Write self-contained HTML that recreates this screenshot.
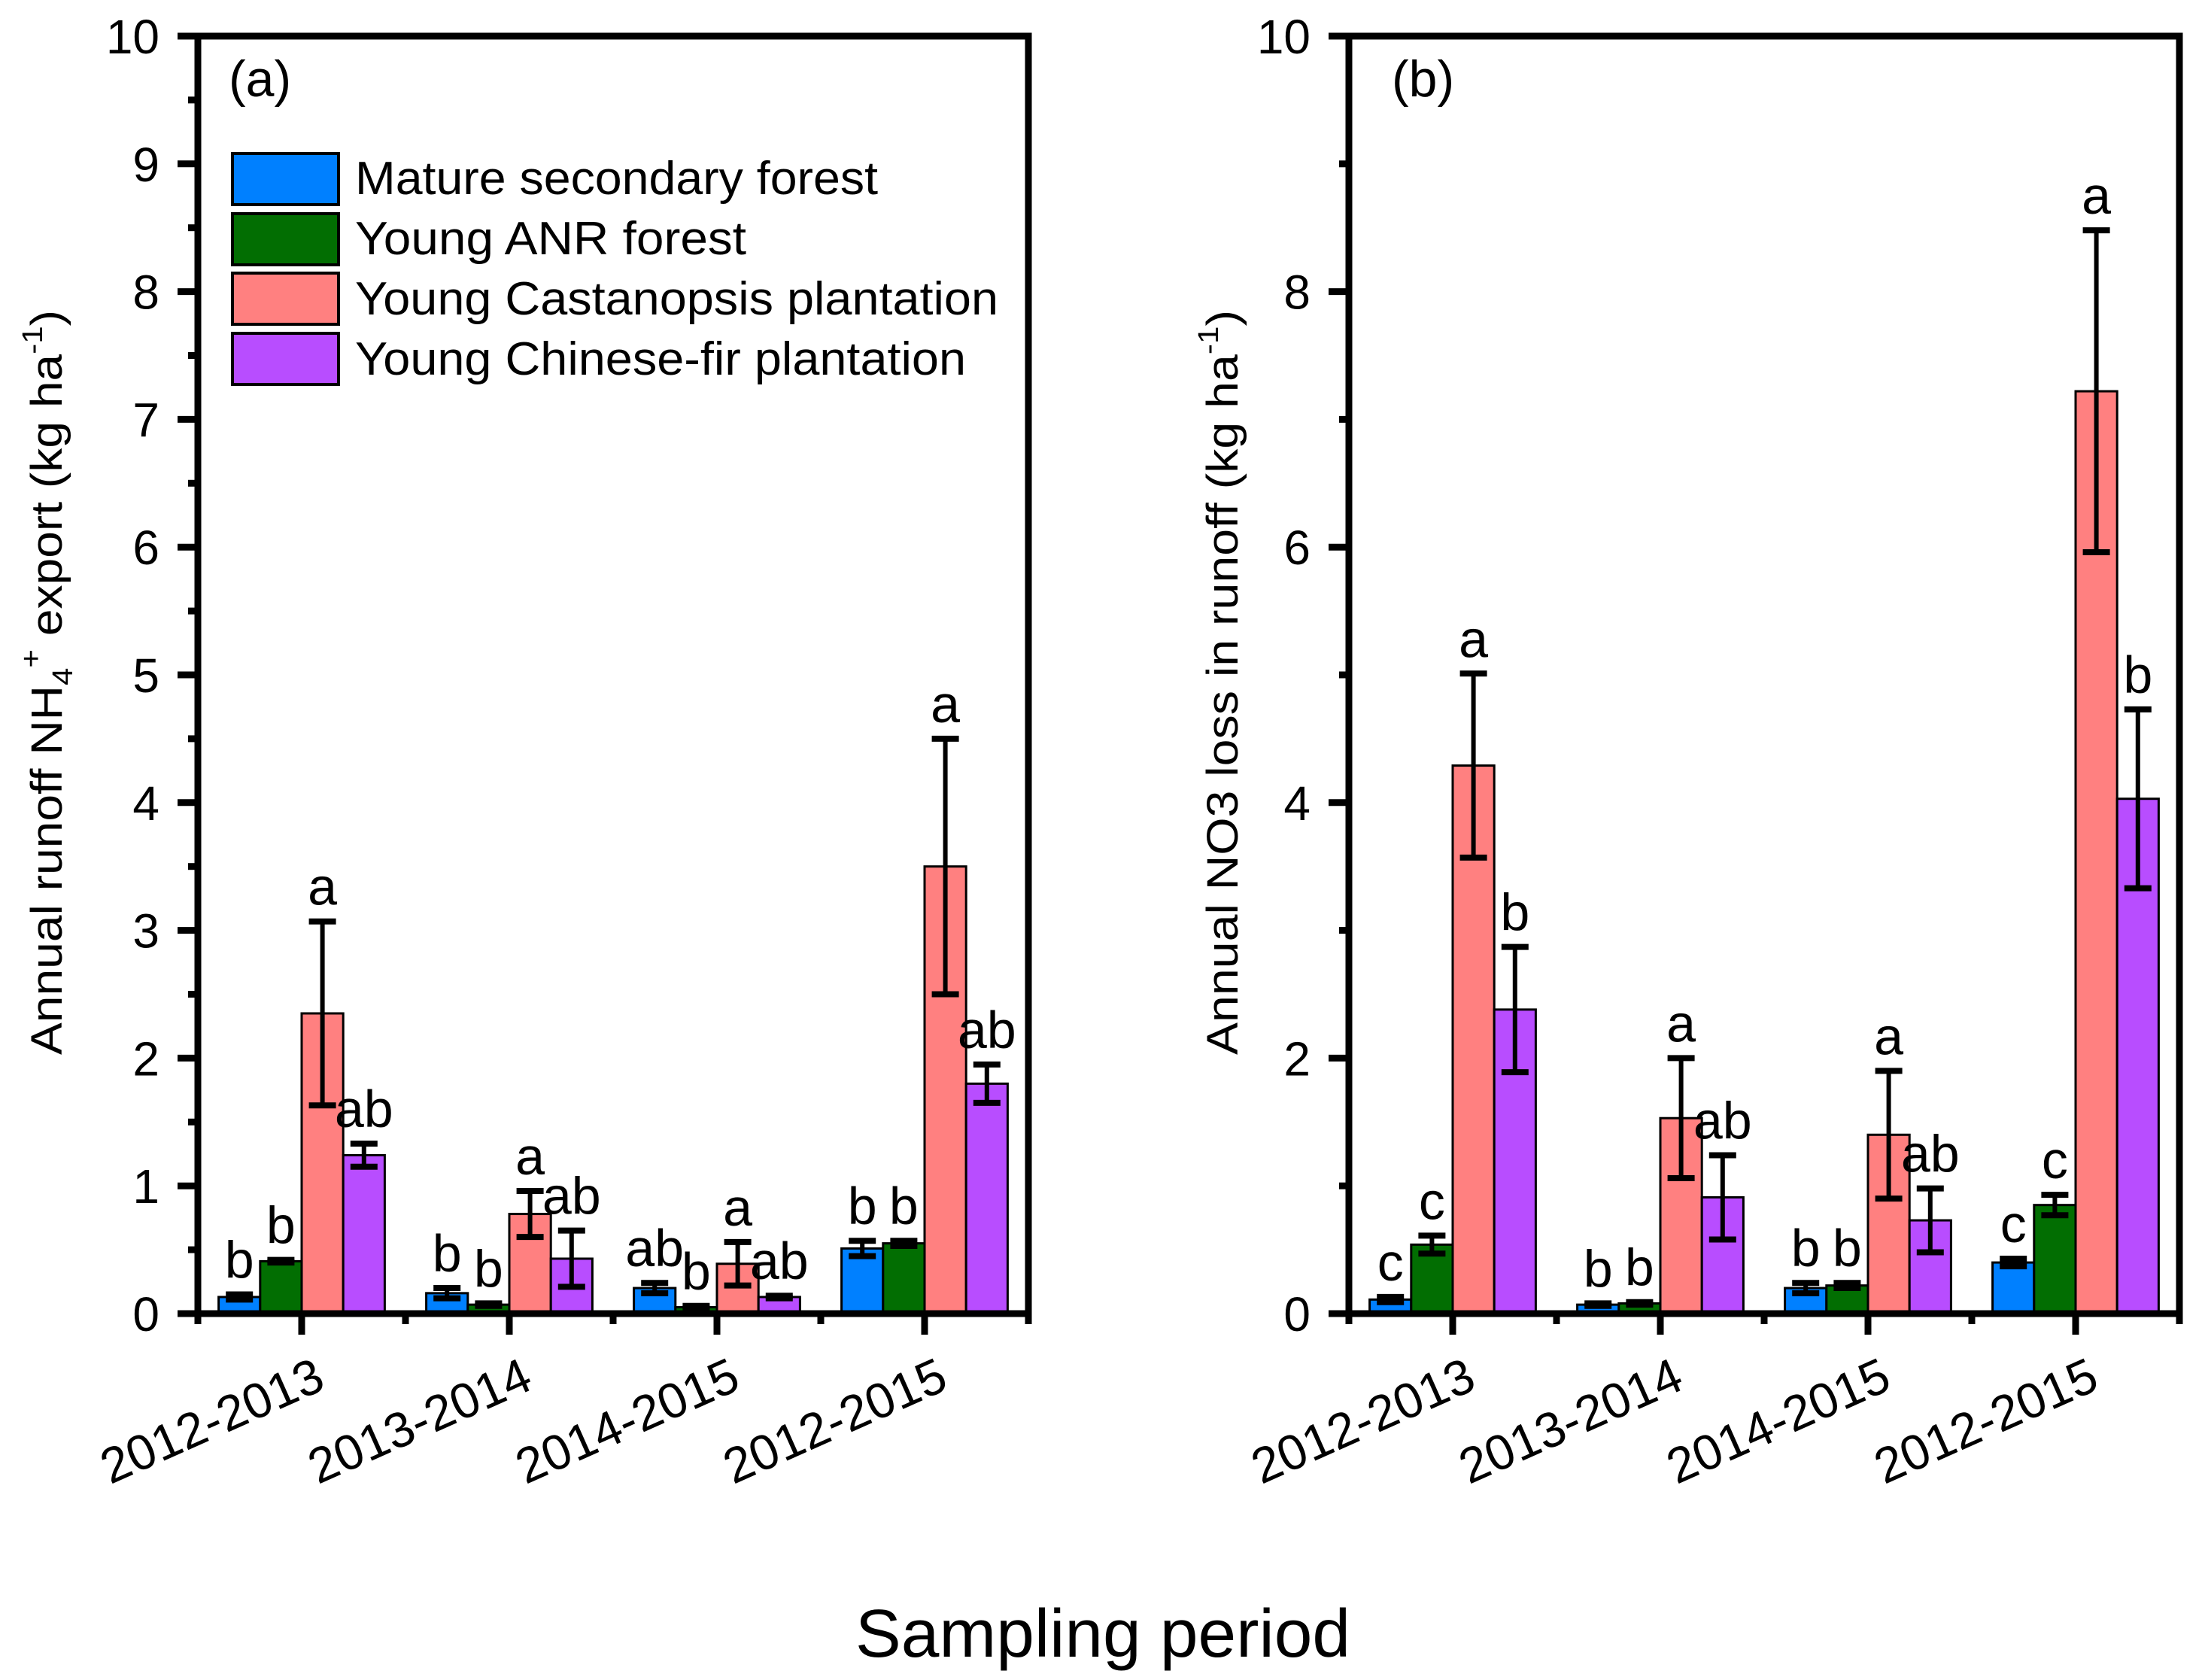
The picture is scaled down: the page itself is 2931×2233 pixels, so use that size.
<!DOCTYPE html>
<html><head><meta charset="utf-8"><style>
html,body{margin:0;padding:0;background:#fff}
svg{display:block;font-family:"Liberation Sans",sans-serif}
</style></head><body>
<svg id="chart" width="2931" height="2233" viewBox="0 0 2931 2233" xmlns="http://www.w3.org/2000/svg">
<rect x="0" y="0" width="2931" height="2233" fill="#fff"/>
<g id="pa"></g>
<g id="pb"></g>
<text x="1466" y="2202" font-size="90" text-anchor="middle" textLength="658" lengthAdjust="spacingAndGlyphs">Sampling period</text>
<g>
<rect x="309" y="204" width="141" height="68" fill="#0080ff" stroke="#000" stroke-width="4"/>
<rect x="309" y="284" width="141" height="68" fill="#026e02" stroke="#000" stroke-width="4"/>
<rect x="309" y="363" width="141" height="68" fill="#ff8080" stroke="#000" stroke-width="4"/>
<rect x="309" y="443" width="141" height="68" fill="#b84dff" stroke="#000" stroke-width="4"/>
<text x="472" y="258" font-size="62" textLength="695" lengthAdjust="spacingAndGlyphs">Mature secondary forest</text>
<text x="472" y="338" font-size="62" textLength="520" lengthAdjust="spacingAndGlyphs">Young ANR forest</text>
<text x="472" y="418" font-size="62" textLength="855" lengthAdjust="spacingAndGlyphs">Young Castanopsis plantation</text>
<text x="472" y="498" font-size="62" textLength="812" lengthAdjust="spacingAndGlyphs">Young Chinese-fir plantation</text>
</g>
</svg>
<script>
const categories = ["2012-2013","2013-2014","2014-2015","2012-2015"];
const seriesNames = ["mature","anr","castanopsis","chinese-fir"];
const colors = ["#0080ff","#026e02","#ff8080","#b84dff"];
const aValues = [[0.13,0.41,2.35,1.24],[0.16,0.07,0.78,0.43],[0.20,0.05,0.39,0.13],[0.51,0.55,3.50,1.80]];
const aErrors = [[0.02,0.01,0.72,0.09],[0.04,0.01,0.18,0.22],[0.04,0.01,0.17,0.01],[0.06,0.02,1.00,0.15]];
const aLetters = [["b","b","a","ab"],["b","b","a","ab"],["ab","b","a","ab"],["b","b","a","ab"]];
const aTicks = [0,1,2,3,4,5,6,7,8,9,10];
const bValues = [[0.11,0.54,4.29,2.38],[0.07,0.08,1.53,0.91],[0.20,0.22,1.40,0.73],[0.40,0.85,7.22,4.03]];
const bErrors = [[0.02,0.07,0.72,0.49],[0.01,0.01,0.47,0.33],[0.04,0.02,0.50,0.25],[0.03,0.08,1.26,0.70]];
const bLetters = [["c","c","a","b"],["b","b","a","ab"],["b","b","a","ab"],["c","c","a","b"]];
const bTicks = [0,2,4,6,8,10];

const NS="http://www.w3.org/2000/svg";
function mk(parent,tag,attrs){const e=document.createElementNS(NS,tag);for(const k in attrs)e.setAttribute(k,attrs[k]);parent.appendChild(e);return e;}

function panel(g,left,right,values,errors,letters,ticks,minorStep,tickLabelRight,tag,tagX,titleX,titleParts){
  const top=48,bottom=1746,ymax=10;
  const y=v=>bottom-(v/ymax)*(bottom-top);
  const cw=(right-left)/categories.length;
  const cx=i=>left+cw*(i+0.5);
  const bw=cw/5;
  values.forEach((row,i)=>{
    row.forEach((v,j)=>{
      const x0=cx(i)-2*bw+j*bw;
      const r=mk(g,"rect",{x:x0,y:y(v),width:bw,height:bottom-y(v),fill:colors[j],stroke:"#000","stroke-width":3});
      
      
      const e=errors[i][j],xm=x0+bw/2;
      const eg=mk(g,"g",{stroke:"#000"});
      
      
      mk(eg,"line",{x1:xm,x2:xm,y1:y(v+e),y2:y(v-e),"stroke-width":6});
      mk(eg,"line",{x1:xm-18,x2:xm+18,y1:y(v+e),y2:y(v+e),"stroke-width":8});
      mk(eg,"line",{x1:xm-18,x2:xm+18,y1:y(v-e),y2:y(v-e),"stroke-width":8});
      const t=mk(g,"text",{x:xm,y:y(v+e)-22,"font-size":70,"text-anchor":"middle"});
      t.textContent=letters[i][j];
      
      
    });
  });
  const fr=mk(g,"rect",{x:left,y:top,width:right-left,height:bottom-top,fill:"none",stroke:"#000","stroke-width":9});
  
  
  for(let v=0;v<=ymax+1e-9;v+=minorStep){
    const isMajor=ticks.some(t=>Math.abs(t-v)<1e-9);
    const l=mk(g,"line",{x1:left-(isMajor?27:13),x2:left,y1:y(v),y2:y(v),stroke:"#000","stroke-width":9});
    
    
  }
  ticks.forEach(v=>{
    const t=mk(g,"text",{x:tickLabelRight,y:y(v)+23,"font-size":64,"text-anchor":"end"});
    t.textContent=String(v);
    
    
  });
  for(let i=0;i<=categories.length;i++){
    const l=mk(g,"line",{x1:left+cw*i,x2:left+cw*i,y1:bottom,y2:bottom+14,stroke:"#000","stroke-width":9});
    
    
  }
  categories.forEach((c,i)=>{
    const l=mk(g,"line",{x1:cx(i),x2:cx(i),y1:bottom,y2:bottom+28,stroke:"#000","stroke-width":9});
    
    
    const tx=cx(i)+34,ty=1845;
    const t=mk(g,"text",{x:tx,y:ty,"font-size":66,"text-anchor":"end",transform:`rotate(-24 ${tx} ${ty})`});
    t.textContent=c;
    
    
  });
  const pt=mk(g,"text",{x:tagX,y:128,"font-size":68});
  pt.textContent=tag;
  
  
  const tt=mk(g,"text",{x:0,y:0,"font-size":58,"text-anchor":"middle",transform:`translate(${titleX} 907) rotate(-90)`,textLength:990,lengthAdjust:"spacingAndGlyphs"});
  
  
  titleParts.forEach(p=>{
    const s=mk(tt,"tspan",p.a||{});
    s.textContent=p.t;
  });
}
panel(document.getElementById('pa'),263,1367,aValues,aErrors,aLetters,aTicks,0.5,212,"(a)",304,82,
 [{t:"Annual runoff NH"},{t:"4",a:{"font-size":38,dy:14}},{t:"+",a:{"font-size":38,dy:-42}},{t:" export (kg ha",a:{dy:28}},{t:"-1",a:{"font-size":38,dy:-26}},{t:")",a:{dy:26}}]);
panel(document.getElementById('pb'),1793,2897,bValues,bErrors,bLetters,bTicks,1,1742,"(b)",1850,1645,
 [{t:"Annual NO3 loss in runoff (kg ha"},{t:"-1",a:{"font-size":38,dy:-26}},{t:")",a:{dy:26}}]);
</script>
</body></html>
